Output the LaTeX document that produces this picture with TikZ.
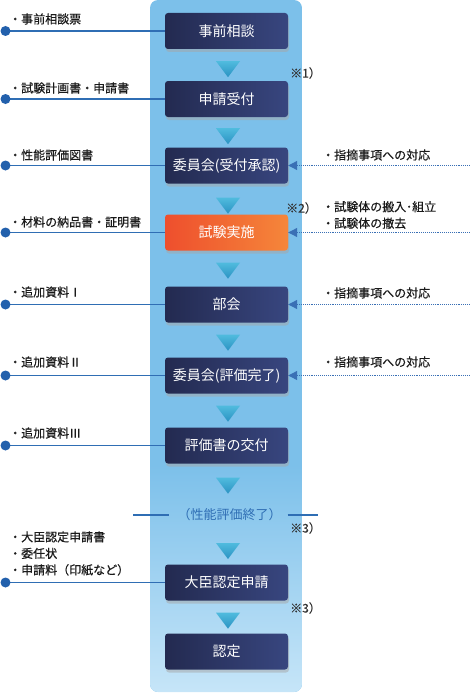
\documentclass[tikz,border=0pt]{standalone}
\usepackage{fontspec}
\setmainfont{Noto Sans CJK JP}
\newfontfamily\labfont[FakeBold=0.5]{Noto Sans CJK JP}
\usetikzlibrary{arrows.meta,shadows}
\definecolor{panelc}{HTML}{7CC0EA}
\definecolor{panelb}{HTML}{C6E5F8}
\definecolor{navyL}{HTML}{232A50}
\definecolor{navyR}{HTML}{38467F}
\definecolor{orL}{HTML}{EE4F2D}
\definecolor{orR}{HTML}{F5863A}
\definecolor{triT}{HTML}{50BBDE}
\definecolor{triB}{HTML}{2A92C2}
\definecolor{lineb}{HTML}{2F6EB4}
\definecolor{dotb}{HTML}{2260AC}
\definecolor{dotl}{HTML}{3A70B5}
\definecolor{labc}{HTML}{1A1A1A}
\tikzset{
  stepbox/.style={minimum width=123pt, minimum height=36pt, inner sep=0pt,
    rounded corners=3pt, left color=navyL, right color=navyR, text=white,
    font=\fontsize{14}{16}\selectfont,
    drop shadow={shadow xshift=1pt, shadow yshift=-3pt, fill=black!35, opacity=0.5}},
  orangebox/.style={stepbox, left color=orL, right color=orR},
  lab/.style={anchor=west, inner sep=0pt, text=labc, font=\labfont\fontsize{12}{16.5}\selectfont, align=left},
  note/.style={anchor=west, inner sep=0pt, text=black!80, font=\labfont\fontsize{12}{14}\selectfont},
  conn/.style={draw=lineb, line width=1.1pt},
  dotline/.style={draw=dotl, line width=1.1pt, densely dotted, -{Triangle[length=9pt,width=9pt]}},
  bdot/.style={circle, fill=dotb, minimum size=10pt, inner sep=0pt},
  tri/.style={top color=triT, bottom color=triB}
}
\begin{document}
\begin{tikzpicture}[x=1pt,y=-1pt]
\useasboundingbox (0,0) rectangle (470,693);
% panel
\begin{scope}
  \clip[rounded corners=8pt] (150,0) rectangle (302,692);
  \fill[panelc] (150,0) rectangle (302,692);
  \shade[top color=panelc, bottom color=panelb] (150,465) rectangle (302,692);
\end{scope}

\coordinate (xl) at (5.5,0);
\coordinate (xr) at (470,0);

% boxes
\node[stepbox] (b1) at (226.5,31) {事前相談};
\node[stepbox] (b2) at (226.5,99) {申請受付};
\node[stepbox] (b3) at (226.5,165.5) {委員会(受付承認)};
\node[orangebox] (b4) at (226.5,232.5) {試験実施};
\node[stepbox] (b5) at (226.5,304.5) {部会};
\node[stepbox] (b6) at (226.5,375.5) {委員会(評価完了)};
\node[stepbox] (b7) at (226.5,445.5) {評価書の交付};
\node[inner sep=0pt, text=lineb, font=\fontsize{13}{15}\selectfont] (fin) at (229.5,515) {（性能評価終了）};
\node[stepbox] (b8) at (226.5,582.5) {大臣認定申請};
\node[stepbox] (b9) at (226.5,651.5) {認定};

% triangles
\foreach \b/\g in {b1/12,b2/11,b3/14,b4/12,b5/12,b6/12,b7/14,b8/12} {
  \shade[tri] ([xshift=-10.5pt,yshift=-\g pt]\b.south) -- ++(24,0) -- ++(-12,16) -- cycle;
}
\shade[tri] (216,543) -- ++(24,0) -- ++(-12,16) -- cycle;

% end line
\coordinate (fl) at (133,515);
\coordinate (fr) at (318,515);
\draw[conn] (fl) -- ([xshift=-8pt]fin.west);
\draw[conn] ([xshift=6pt]fin.east) -- (fr);

% left connectors
\foreach \b/\n in {b1/d1,b2/d2,b3/d3,b4/d4,b5/d5,b6/d6,b7/d7,b8/d8} {
  \coordinate (\n) at (\b.west -| xl);
  \draw[conn] (\n) -- (\b.west);
  \node[bdot] at (\n) {};
}

% left labels
\node[lab] (l1) at (9,19) {・事前相談票};
\node[lab] (l2) at (9,88) {・試験計画書・申請書};
\node[lab] (l3) at (9,155) {・性能評価図書};
\node[lab] (l4) at (9,222) {・材料の納品書・証明書};
\node[lab] (l5) at (9,292) {・追加資料Ⅰ};
\node[lab] (l6) at (9,362) {・追加資料Ⅱ};
\node[lab] (l7) at (9,433) {・追加資料Ⅲ};
\node[lab] (l8) at (9,553.5) {・大臣認定申請書\\・委任状\\・申請料（印紙など）};

% right dotted connectors
\foreach \b/\n in {b3/r3,b4/r4,b5/r5,b6/r6} {
  \coordinate (\n) at (\b.east -| xr);
  \draw[dotline] (\n) -- (\b.east);
}

% right labels
\node[lab] (rl3) at (322,155) {・指摘事項への対応};
\node[lab] (rl4) at (322,215) {・試験体の搬入･組立\\・試験体の撤去};
\node[lab] (rl5) at (322,293) {・指摘事項への対応};
\node[lab] (rl6) at (322,362) {・指摘事項への対応};

% notes
\node[note] (n1) at (290,73) {※1）};
\node[note] (n2) at (286,208) {※2）};
\node[note] (n3) at (290,528) {※3）};
\node[note] (n4) at (290,608) {※3）};
\end{tikzpicture}
\end{document}
